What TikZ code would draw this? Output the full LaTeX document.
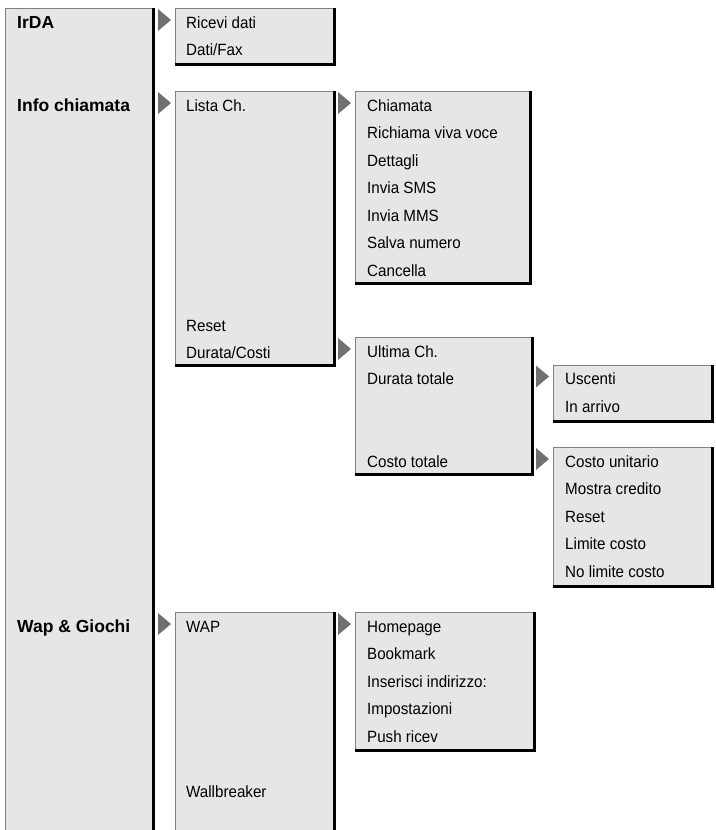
\documentclass[tikz,border=0pt]{standalone}
\usepackage{fontspec}
\setmainfont{Liberation Sans}
\newfontfamily\narrowfam{Liberation Sans}[FakeStretch=0.93]
\usetikzlibrary{positioning,shapes.geometric}
\definecolor{panel}{HTML}{E6E6E6}
\definecolor{rim}{HTML}{808080}
\definecolor{pointer}{HTML}{707070}
\newcommand{\itemfont}{\narrowfam\fontsize{16.3}{18}\selectfont}
\newcommand{\headfont}{\fontsize{17.5}{20}\selectfont\bfseries}
\tikzset{
  menubox/.style={draw=rim, fill=panel, line width=1.3pt, inner sep=0pt,
    anchor=north west},
  rimdark/.style={draw=black, line width=3pt},
  entry/.style={anchor=base west, inner sep=0pt, font=\itemfont},
  headentry/.style={entry, font=\headfont},
  subarrow/.style={isosceles triangle, isosceles triangle stretches,
    fill=pointer, inner sep=0pt, outer sep=0pt,
    minimum height=13pt, minimum width=22pt, anchor=apex}
}

\begin{document}
\begin{tikzpicture}[x=1pt, y=-1pt]
    \clip (0,0) rectangle (715,830);
    % main menu column
    \node[menubox, minimum width=147pt, minimum height=900pt] (menu) at (5,8) {};
    % submenu boxes: name/x/y/width/height
    \foreach \nm/\x/\y/\w/\h in {irda/175/8/158/55, lista/175/91/158/273,
      chiamata/355/91/174/191, durata/355/337/176/136,
      uscenti/553/364.5/158/55.5, costo/553/447/158/138,
      wap/175/612/158/300, homepage/355/612/178/137} {
      \node[menubox, minimum width=\w pt, minimum height=\h pt] (\nm) at (\x,\y) {};
      \node[subarrow] (a-\nm) at ([xshift=-4pt, yshift=-12pt]\nm.north west) {};
    }
    \foreach \nm in {menu,irda,lista,chiamata,durata,uscenti,costo,wap,homepage}
      \draw[rimdark] (\nm.north east) -- (\nm.south east) -- (\nm.south west);

    % entries
    \foreach \k/\t in {0/Ricevi dati, 1/{Dati/Fax}}
      \node[entry] (irda-\k) at ([xshift=11pt, yshift={-20pt-27.5pt*\k}]irda.north west) {\t};
    \foreach \k/\t in {0/Lista Ch., 8/Reset, 9/{Durata/Costi}}
      \node[entry] (lista-\k) at ([xshift=11pt, yshift={-20pt-27.5pt*\k}]lista.north west) {\t};
    \foreach \t [count=\k from 0] in {Chiamata, Richiama viva voce, Dettagli,
      Invia SMS, Invia MMS, Salva numero, Cancella}
      \node[entry] (chiamata-\k) at ([xshift=12pt, yshift={-20pt-27.5pt*\k}]chiamata.north west) {\t};
    \foreach \k/\t in {0/Ultima Ch., 1/Durata totale, 4/Costo totale}
      \node[entry] (durata-\k) at ([xshift=12pt, yshift={-20pt-27.5pt*\k}]durata.north west) {\t};
    \foreach \t [count=\k from 0] in {Uscenti, In arrivo}
      \node[entry] (uscenti-\k) at ([xshift=12pt, yshift={-20pt-27.5pt*\k}]uscenti.north west) {\t};
    \foreach \t [count=\k from 0] in {Costo unitario, Mostra credito, Reset,
      Limite costo, No limite costo}
      \node[entry] (costo-\k) at ([xshift=12pt, yshift={-20pt-27.5pt*\k}]costo.north west) {\t};
    \foreach \k/\t in {0/WAP, 6/Wallbreaker}
      \node[entry] (wap-\k) at ([xshift=11pt, yshift={-20pt-27.5pt*\k}]wap.north west) {\t};
    \foreach \t [count=\k from 0] in {Homepage, Bookmark, Inserisci indirizzo:,
      Impostazioni, Push ricev}
      \node[entry] (homepage-\k) at ([xshift=12pt, yshift={-20pt-27.5pt*\k}]homepage.north west) {\t};

    % main menu headings
    \node[headentry, xshift=12pt] (h-irda) at (menu.west |- irda-0.base) {IrDA};
    \node[headentry, xshift=12pt] (h-info) at (menu.west |- lista-0.base) {Info chiamata};
    \node[headentry, xshift=12pt] (h-wap) at (menu.west |- wap-0.base) {Wap \& Giochi};
\end{tikzpicture}
\end{document}
